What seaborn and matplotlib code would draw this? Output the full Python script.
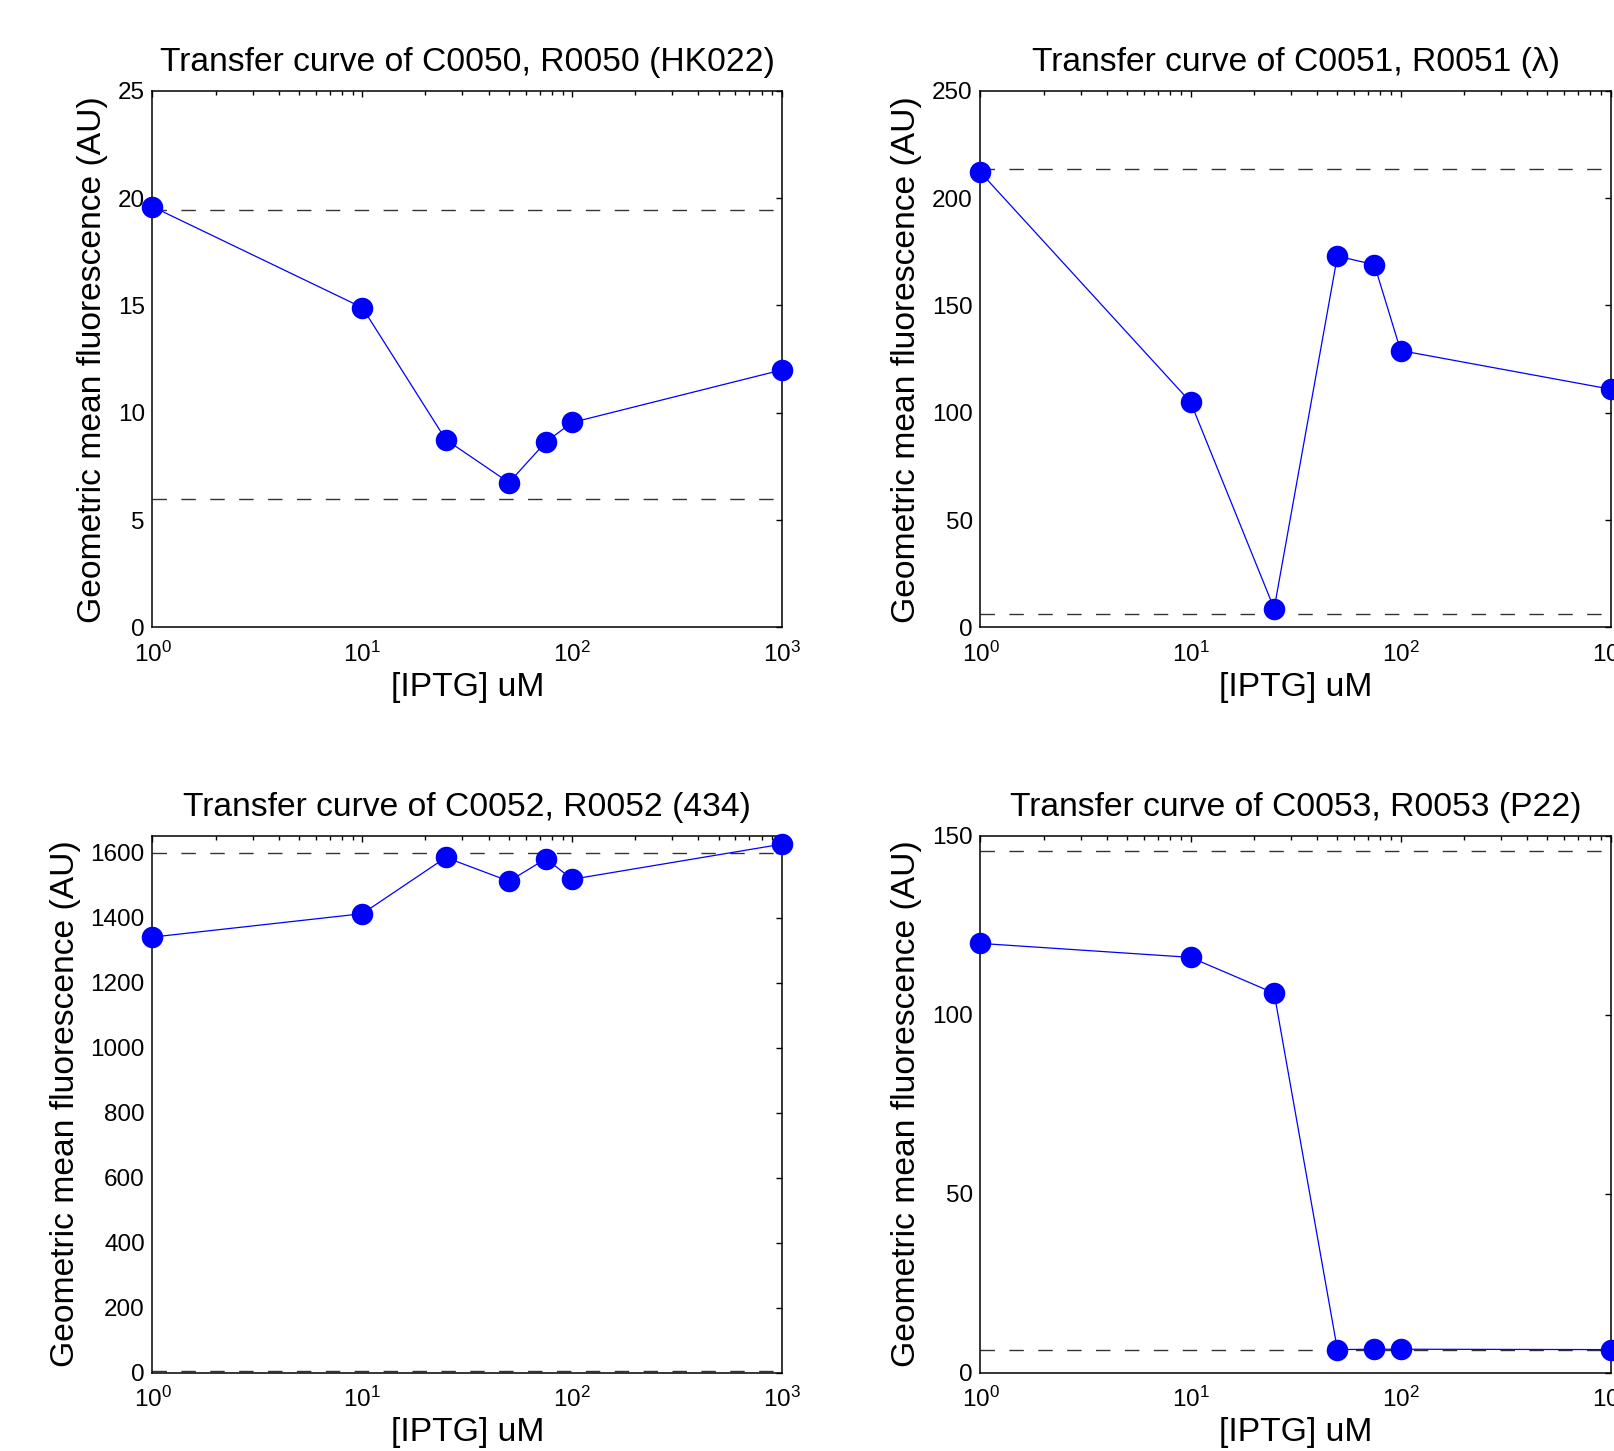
import numpy as np
import matplotlib
matplotlib.use('Agg')
import matplotlib.pyplot as plt
from matplotlib.ticker import MultipleLocator, LogLocator, NullFormatter
import seaborn as sns

sns.set_style("white")
plt.rcParams['font.family'] = ['Liberation Sans', 'DejaVu Sans']
plt.rcParams['mathtext.fontset'] = 'custom'
plt.rcParams['mathtext.rm'] = 'Liberation Sans'
plt.rcParams['mathtext.it'] = 'Liberation Sans:italic'
plt.rcParams['text.color'] = 'black'
plt.rcParams['axes.labelcolor'] = 'black'

# ====================== DATA ======================
iptg = [1, 10, 25, 50, 75, 100, 1000]

titles = [
    'Transfer curve of C0050, R0050 (HK022)',
    'Transfer curve of C0051, R0051 (\u03bb)',
    'Transfer curve of C0052, R0052 (434)',
    'Transfer curve of C0053, R0053 (P22)',
]

fluor_hk022 = [19.6, 14.9, 8.75, 6.75, 8.65, 9.55, 12.0]
fluor_lambda = [212, 105, 8.8, 173, 169, 129, 111]
fluor_434 = [1340, 1412, 1585, 1512, 1581, 1518, 1626]
fluor_p22 = [119.9, 116.0, 106.0, 6.4, 6.5, 6.5, 6.4]

# dashed reference levels (high / low)
ref_hk022 = [19.47, 5.97]
ref_lambda = [213.8, 6.4]
ref_434 = [1598, 4]
ref_p22 = [145.6, 6.2]

ylims = [25, 250, 1652, 150]
ystep = [5, 50, 200, 50]

series = [fluor_hk022, fluor_lambda, fluor_434, fluor_p22]
refs = [ref_hk022, ref_lambda, ref_434, ref_p22]

# ====================== PLOT ======================
fig = plt.figure(figsize=(16.15, 14.51), dpi=100)
W, H = 1615, 1451
boxes = [
    (152.5, 90.8, 782.0, 627.5),
    (980.5, 90.8, 1610.7, 627.5),
    (152.5, 835.7, 782.0, 1372.5),
    (980.5, 835.7, 1610.7, 1372.5),
]

for i, (x0, y0, x1, y1) in enumerate(boxes):
    ax = fig.add_axes([x0 / W, 1 - y1 / H, (x1 - x0) / W, (y1 - y0) / H])

    sns.lineplot(x=iptg, y=series[i], ax=ax, color='blue', lw=0.9,
                 marker='o', markersize=15.5, markeredgecolor='blue',
                 markeredgewidth=0, estimator=None, sort=False,
                 clip_on=False, zorder=3)
    for lvl in refs[i]:
        ax.axhline(lvl, color='#333333', lw=1.0, dashes=(10.4, 10.4), zorder=2)

    ax.set_xscale('log')
    ax.set_xlim(1, 1000)
    ax.set_ylim(0, ylims[i])
    ax.yaxis.set_major_locator(MultipleLocator(ystep[i]))
    ax.xaxis.set_major_locator(LogLocator(base=10, numticks=10))
    ax.xaxis.set_minor_locator(LogLocator(base=10, subs=np.arange(2, 10), numticks=10))
    ax.xaxis.set_minor_formatter(NullFormatter())

    ax.tick_params(which='both', direction='in', top=True, right=True,
                   colors='black', width=1.0)
    ax.tick_params(which='major', length=4.5)
    ax.tick_params(which='minor', length=3)
    ax.tick_params(axis='y', labelsize=17.5, pad=5.5)
    ax.tick_params(axis='x', labelsize=17.5, pad=10)

    for sp in ax.spines.values():
        sp.set_color('black')
        sp.set_linewidth(1.1)

    ax.set_title(titles[i], fontsize=24.2, pad=14)
    ax.set_xlabel('[IPTG] uM', fontsize=24.2, labelpad=4)
    ax.set_ylabel('Geometric mean fluorescence (AU)', fontsize=24.2, labelpad=7)

fig.savefig('out.png', dpi=100, facecolor='white')
